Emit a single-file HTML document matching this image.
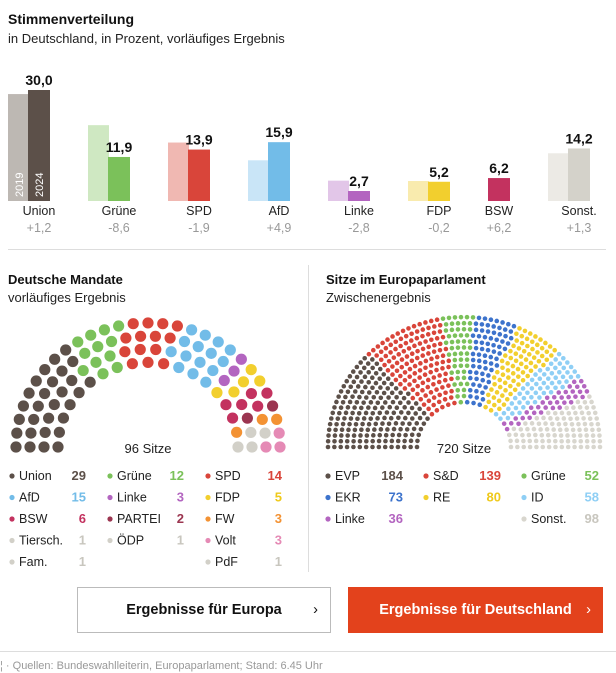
<!DOCTYPE html>
<html><head><meta charset="utf-8">
<style>
body{margin:0;background:#fff;font-family:"Liberation Sans",Arial,sans-serif;}
svg{display:block}
text{font-family:"Liberation Sans",Arial,sans-serif}
.btn{position:absolute;top:587px;height:46px;box-sizing:border-box;font:bold 14.5px "Liberation Sans",sans-serif;display:flex;align-items:center;justify-content:center}
</style></head>
<body>
<div style="position:relative;width:616px;height:673px;overflow:hidden">
<svg id="chart" width="616" height="673">
  <text x="8" y="24" font-size="14" font-weight="bold" fill="#111">Stimmenverteilung</text>
  <text x="8" y="43" font-size="13" fill="#222">in Deutschland, in Prozent, vorläufiges Ergebnis</text>
  <g id="bars"></g>
  <line x1="8" y1="249.5" x2="606" y2="249.5" stroke="#ddd"/>
  <line x1="308.5" y1="265" x2="308.5" y2="572" stroke="#ddd"/>
  <text x="8" y="284" font-size="13" font-weight="bold" fill="#111">Deutsche Mandate</text>
  <text x="8" y="302" font-size="13" fill="#222">vorläufiges Ergebnis</text>
  <text x="326" y="284" font-size="13" font-weight="bold" fill="#111">Sitze im Europaparlament</text>
  <text x="326" y="302" font-size="13" fill="#222">Zwischenergebnis</text>
  <g id="hemiDE"></g>
  <g id="hemiEU"></g>
  <text x="148" y="453" font-size="13" text-anchor="middle" fill="#222">96 Sitze</text>
  <text x="464" y="453" font-size="13" text-anchor="middle" fill="#222">720 Sitze</text>
  <g id="legDE"></g>
  <g id="legEU"></g>
  <line x1="0" y1="651.5" x2="616" y2="651.5" stroke="#ddd"/>
  <text x="0" y="669" font-size="11" fill="#999">¦ · Quellen: Bundeswahlleiterin, Europaparlament; Stand: 6.45 Uhr</text>
</svg>
<div class="btn" style="left:77px;width:254px;border:1px solid #bbb;color:#111;background:#fff">Ergebnisse für Europa<span style="position:absolute;right:12px;font-weight:normal">›</span></div>
<div class="btn" style="left:348px;width:255px;background:#e3421c;color:#fff">Ergebnisse für Deutschland<span style="position:absolute;right:12px;font-weight:normal">›</span></div>
</div>
<script>
const parties=["Union","Grüne","SPD","AfD","Linke","FDP","BSW","Sonst."];
const votes2019=[28.9,20.5,15.8,11.0,5.5,5.4,0,12.9];
const votes2024=[30.0,11.9,13.9,15.9,2.7,5.2,6.2,14.2];
const diffs=["+1,2","-8,6","-1,9","+4,9","-2,8","-0,2","+6,2","+1,3"];
const colors24=["#5c5049","#7bc15a","#d9453a","#72bce8","#b365c0","#f2cf2e","#c3325f","#d4d2ca"];
const colors19=["#bdb8b3","#cfe8c2","#f0b8b2","#c9e5f7","#e2c6e8","#f9ebae","#e9b3c4","#eceae5"];

const deParties=["Union","Grüne","SPD","AfD","Linke","FDP","BSW","PARTEI","FW","Tiersch.","ÖDP","Volt","Fam.","PdF"];
const deSeats=[29,12,14,15,3,5,6,2,3,1,1,3,1,1];
const deColors=["#5c5049","#7bc15a","#d9453a","#72bce8","#b365c0","#f2cf2e","#c3325f","#9b3550","#f39233","#d2d0c8","#d2d0c8","#e58ab5","#d2d0c8","#d2d0c8"];

const euParties=["EVP","S&D","Grüne","EKR","RE","ID","Linke","Sonst."];
const euSeats=[184,139,52,73,80,58,36,98];
const euColors=["#5c5049","#d9453a","#7bc15a","#3d73cc","#f2cf2e","#8fcff5","#b365c0","#d8d6ce"];

const NS="http://www.w3.org/2000/svg";
function mk(tag,attrs,parent,txt){const e=document.createElementNS(NS,tag);for(const k in attrs)e.setAttribute(k,attrs[k]);if(txt!==undefined)e.textContent=txt;parent.appendChild(e);return e;}

// bar chart
const base=201, pxPer=3.7;
function yv(v){return base-v*pxPer;}
function gx(i){return Math.min(8+i*80,548);}
const bars=document.getElementById('bars');
parties.forEach((p,i)=>{
  const x=gx(i);
  const has19=votes2019[i]>0;
  const bx=has19?x+20:x;
  const cx=has19?x+31:x+11;
  if(has19){
    const r=mk('rect',{x:x,y:yv(votes2019[i]),width:21,height:base-yv(votes2019[i]),fill:colors19[i]},bars);
    
    
  }
  const r2=mk('rect',{x:bx,y:yv(votes2024[i]),width:22,height:base-yv(votes2024[i]),fill:colors24[i]},bars);
  
  
  const v=mk('text',{x:cx,y:yv(votes2024[i])-5,'font-size':14,'font-weight':'bold','text-anchor':'middle',fill:'#111'},bars,votes2024[i].toFixed(1).replace('.',','));
  
  
  const n=mk('text',{x:cx,y:215,'font-size':12.5,'text-anchor':'middle',fill:'#222'},bars,p);
  
  
  const d=mk('text',{x:cx,y:232,'font-size':12.5,'text-anchor':'middle',fill:'#999'},bars,diffs[i]);
  
  
});
const y1=mk('text',{x:0,y:0,'font-size':11,fill:'#fff',transform:'translate(23,197) rotate(-90)'},bars,'2019');


const y2=mk('text',{x:0,y:0,'font-size':11,fill:'#fff',transform:'translate(43,197) rotate(-90)'},bars,'2024');



// hemicycle
function hemi(g,cx,cy,rIn,rOut,rows,total,seats,cols,dotR,ys,name){
  const radii=[];for(let k=0;k<rows;k++)radii.push(rIn+(rOut-rIn)*k/(rows-1));
  const sumR=radii.reduce((a,b)=>a+b,0);
  let counts=radii.map(r=>Math.floor(total*r/sumR));
  let rem=total-counts.reduce((a,b)=>a+b,0);
  for(let k=rows-1;rem>0;k--,rem--)counts[(k+rows)%rows]++;
  const pts=[];
  radii.forEach((r,k)=>{const n=counts[k];for(let j=0;j<n;j++){const a=Math.PI-(n>1?j*Math.PI/(n-1):Math.PI/2);pts.push({a:a,x:cx+r*Math.cos(a),y:cy-r*ys*Math.sin(a),r:r});}});
  pts.sort((p,q)=>q.a-p.a||q.r-p.r);
  let idx=0;
  seats.forEach((s,pi)=>{for(let j=0;j<s;j++){const p=pts[idx++];if(!p)return;
    const c=mk('circle',{cx:p.x.toFixed(2),cy:p.y.toFixed(2),r:dotR,fill:cols[pi]},g);
    
    }});
}
hemi(document.getElementById('hemiDE'),148,447,90,132,4,96,deSeats,deColors,5.6,0.94,'de');
hemi(document.getElementById('hemiEU'),464,447,47,136,15,720,euSeats,euColors,2.3,0.955,'eu');

// legends
function legend(g,names,vals,cols,x0,colW,numOff,y0){
  names.forEach((n,i)=>{
    let row=Math.floor(i/3),col=i%3;
    if(g.id==='legDE'&&i===13){row=4;col=2;}
    if(g.id==='legEU'&&i===7){row=2;col=2;}
    const x=x0+col*colW,y=y0+row*21.5;
    const c=mk('circle',{cx:x,cy:y-4,r:2.6,fill:cols[i]},g);
    
    
    const t=mk('text',{x:x+7,y:y,'font-size':12.5,fill:'#222'},g,n);
    
    
    const v=mk('text',{x:x+numOff,y:y,'font-size':13,'font-weight':'bold','text-anchor':'end',fill:cols[i]==='#d2d0c8'||cols[i]==='#d8d6ce'?'#c8c6be':(cols[i]==='#f2cf2e'?'#efc91a':cols[i])},g,vals[i]);
    
    
  });
}
legend(document.getElementById('legDE'),deParties,deSeats,deColors,12,98,74,480);
legend(document.getElementById('legEU'),euParties,euSeats,euColors,328,98,75,480);
</script>
</body></html>
